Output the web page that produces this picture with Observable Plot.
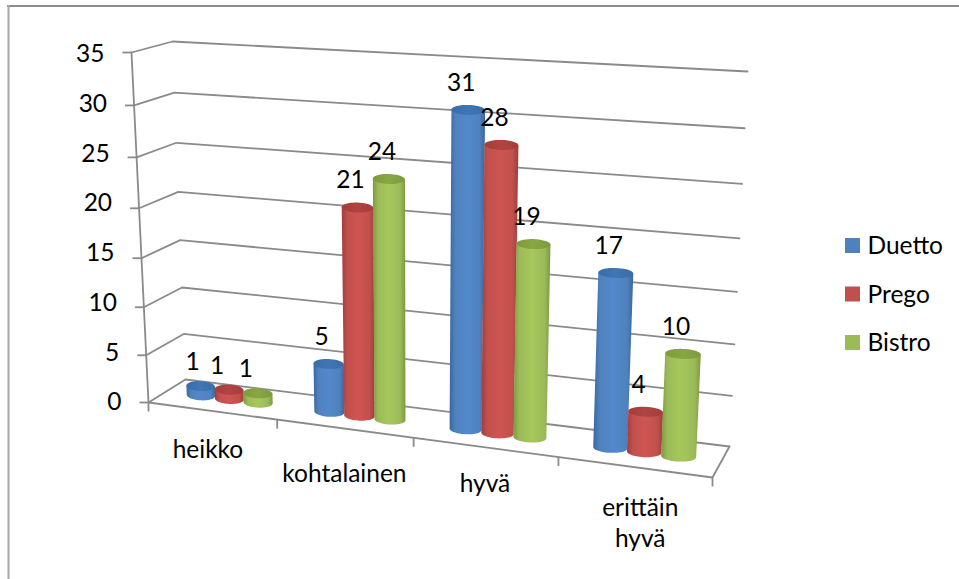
<!DOCTYPE html>
<html>
<head>
<meta charset="utf-8">
<script src="https://cdn.jsdelivr.net/npm/d3@7"></script>
<script src="https://cdn.jsdelivr.net/npm/@observablehq/plot@0.6"></script>
<style>
  html, body { margin: 0; padding: 0; background: #fff; }
  svg { display: block; }
</style>
</head>
<body>
<div id="chart"></div>
<script>
// Survey answers per rating class and restaurant line
const categories = ["heikko", "kohtalainen", "hyvä", "erittäin\nhyvä"];
const seriesNames = ["Duetto", "Prego", "Bistro"];
const duetto = [1, 5, 31, 17];
const prego = [1, 21, 28, 4];
const bistro = [1, 24, 19, 10];
const seriesValues = [duetto, prego, bistro];
const valueTicks = [0, 5, 10, 15, 20, 25, 30, 35];

// Look of each series: flat legend colour, then cylinder edge, highlight and cap tones
const palette = [
  {flat: "#4f81bd", edge: "#38689f", mid: "#5289cc", cap: "#3a6ca8", capLight: "#3f76b5"},
  {flat: "#c0504d", edge: "#a03c3a", mid: "#cf5552", cap: "#a53d3b", capLight: "#b04441"},
  {flat: "#9bbb59", edge: "#7c993f", mid: "#a7c75c", cap: "#7e9b3d", capLight: "#88a643"}
];

// Perspective box of the chart: floor and ceiling corners in the drawing's pixels
const valueMax = 35;
const box = {
  frontLeft: {floor: [148, 402], top: [131, 52]},
  frontRight: {floor: [712, 477], top: [731, 92]},
  backLeft: {floor: [185, 379], top: [172, 41]},
  backRight: {floor: [729, 446], top: [747, 71]}
};
const lerp = (a, b, t) => a + (b - a) * t;
const lerp2 = (a, b, t) => [lerp(a[0], b[0], t), lerp(a[1], b[1], t)];
// Foreshortening along the category axis and up the value axis
const warpCategory = (u) => (u * 0.887) / (1 - 0.113 * u);
const warpValue = (f) => (f * 0.935) / (1 - 0.065 * f);
// u: 0..1 along the categories, w: 0 front..1 back, v: chart value
function project(u, w, v) {
  const t = warpCategory(u);
  const at = (level) =>
    lerp2(
      lerp2(box.frontLeft[level], box.frontRight[level], t),
      lerp2(box.backLeft[level], box.backRight[level], t),
      w
    );
  const [x, y] = lerp2(at("floor"), at("top"), warpValue(v / valueMax));
  return {x, y};
}

// Cylinder layout on the floor
const clusterStep = 0.0565;
const barRadius = 0.0285;
const ellipseDepth = 5;
const ellipseTilt = 0.35;
const barCenter = (c, s) => (c + 0.5) / categories.length + (s - 1) * clusterStep;

function ellipsePoint(u, v, theta) {
  const center = project(u, 0.5, v);
  const p = project(u + barRadius * Math.cos(theta), 0.5, v);
  return {x: p.x, y: center.y + (p.y - center.y) * ellipseTilt + ellipseDepth * Math.sin(theta)};
}
function capOutline(c, s, v) {
  return d3.range(0, 40).map((i) => ({cat: c, ...ellipsePoint(barCenter(c, s), v, (i / 40) * 2 * Math.PI)}));
}
function bodyOutline(c, s, v) {
  const u = barCenter(c, s);
  const lower = d3.range(0, 25).map((i) => ({cat: c, ...ellipsePoint(u, 0, (i / 24) * Math.PI)}));
  const upper = [Math.PI, 0].map((theta) => ({cat: c, ...ellipsePoint(u, v, theta)}));
  return [...lower, ...upper];
}

// Gridlines run up the side wall and along the back wall
const wallLines = valueTicks.flatMap((v) => [
  {v, ...project(0, 0, v)},
  {v, ...project(0, 1, v)},
  {v, ...project(1, 1, v)}
]);
const floorEdge = [project(1, 1, 0), project(1, 0, 0), project(0, 0, 0)];
const valueAxis = [project(0, 0, 0), project(0, 0, valueMax)];
const valueTickRows = valueTicks.map((v) => ({v, ...project(0, 0, v)}));
const categoryTicks = d3.range(0, categories.length + 1).map((i) => project(i / categories.length, 0, 0));

// Axis numbers sit evenly spaced, unlike the foreshortened ticks beside them
const valueAxisLabels = valueTicks.map((v) => ({
  v,
  x: project(0, 0, v).x - 27,
  y: lerp(402, 54, v / valueMax)
}));

// Small per-label corrections below the floor edge
const categoryLabelNudge = [[-4, 37], [0, 43], [0, 35], [6, 54]];
const categoryLabels = categories.map((name, c) => {
  const p = project((c + 0.5) / categories.length, 0, 0);
  return {name, x: p.x + categoryLabelNudge[c][0], y: p.y + categoryLabelNudge[c][1]};
});
// The labels of the lowest cluster stand a little closer to their cylinders
const dataLabelNudge = (c, s) => (c === 0 ? [s === 0 ? -1 : -5, 3] : [0, 0]);
const dataLabels = seriesValues.flatMap((values, s) =>
  values.map((v, c) => {
    const p = project(barCenter(c, s), 0.5, v);
    const [dx, dy] = dataLabelNudge(c, s);
    return {v, x: p.x - 7 + dx, y: p.y - 27 + dy};
  })
);

const legendRows = seriesNames.map((name, s) => ({name, s}));
const legendTop = (s) => 238 + s * 48.5;

const gradient = (id, stops) => {
  const g = d3.create("svg:linearGradient").attr("id", id).attr("x1", 0).attr("x2", 1).attr("y1", 0).attr("y2", 0);
  stops.forEach(([o, c]) => g.append("stop").attr("offset", o).attr("stop-color", c));
  return g.node();
};
const gradientDefs = () => {
  const defs = d3.create("svg:defs");
  palette.forEach((p, s) => {
    defs.append(() => gradient(`body-${s}`, [[0, p.edge], [0.16, p.flat], [0.5, p.mid], [0.84, p.flat], [1, p.edge]]));
    defs.append(() => gradient(`cap-${s}`, [[0, p.cap], [0.5, p.capLight], [1, p.cap]]));
  });
  return defs.node();
};

const axisGray = "#8a8a8a";
const labelFont = {fontFamily: "Lato, sans-serif", fontSize: 24.5, fill: "#000"};

const barMarks = seriesValues.flatMap((values, s) => [
  Plot.line(values.flatMap((v, c) => bodyOutline(c, s, v)), {
    x: "x", y: "y", z: "cat", curve: "linear-closed", stroke: "none", fill: `url(#body-${s})`
  }),
  Plot.line(values.flatMap((v, c) => capOutline(c, s, v)), {
    x: "x", y: "y", z: "cat", curve: "linear-closed", stroke: "none", fill: `url(#cap-${s})`
  })
]);

const chart = Plot.plot({
  width: 959,
  height: 579,
  margin: 0,
  x: {type: "linear", domain: [0, 959], range: [0, 959], axis: null},
  y: {type: "linear", domain: [0, 579], range: [0, 579], axis: null},
  style: {background: "#fff"},
  marks: [
    gradientDefs,
    // Outer frame of the chart object: only its top and left edges show
    Plot.ruleY([5.5], {x1: 7, x2: 959, stroke: "#8c8c8c", strokeWidth: 2}),
    Plot.ruleX([8], {y1: 5, y2: 579, stroke: "#a6a6a6", strokeWidth: 2}),
    // Walls, floor and ticks
    Plot.line(wallLines, {x: "x", y: "y", z: "v", stroke: axisGray, strokeWidth: 1.8}),
    Plot.line(floorEdge, {x: "x", y: "y", stroke: axisGray, strokeWidth: 1.8}),
    Plot.line(valueAxis, {x: "x", y: "y", stroke: axisGray, strokeWidth: 1.8}),
    Plot.link(valueTickRows, {x1: (d) => d.x - 9, x2: "x", y1: "y", y2: "y", stroke: axisGray, strokeWidth: 1.8}),
    Plot.link(categoryTicks, {x1: "x", x2: "x", y1: "y", y2: (d) => d.y + 9, stroke: axisGray, strokeWidth: 1.8}),
    // Cylinders, painted back to front within each cluster
    ...barMarks,
    // Texts
    Plot.text(valueAxisLabels, {x: "x", y: "y", text: (d) => String(d.v), textAnchor: "end", ...labelFont}),
    Plot.text(categoryLabels, {x: "x", y: "y", text: "name", lineHeight: 1.27, textAnchor: "middle", lineAnchor: "middle", ...labelFont}),
    Plot.text(dataLabels, {x: "x", y: "y", text: (d) => String(d.v), ...labelFont}),
    // Legend
    Plot.rect(legendRows, {x1: 845, x2: 860, y1: (d) => legendTop(d.s), y2: (d) => legendTop(d.s) + 15, fill: (d) => palette[d.s].flat}),
    Plot.text(legendRows, {x: 867, y: (d) => legendTop(d.s) + 8, text: "name", textAnchor: "start", ...labelFont})
  ]
});
document.getElementById("chart").append(chart);
</script>
</body>
</html>
